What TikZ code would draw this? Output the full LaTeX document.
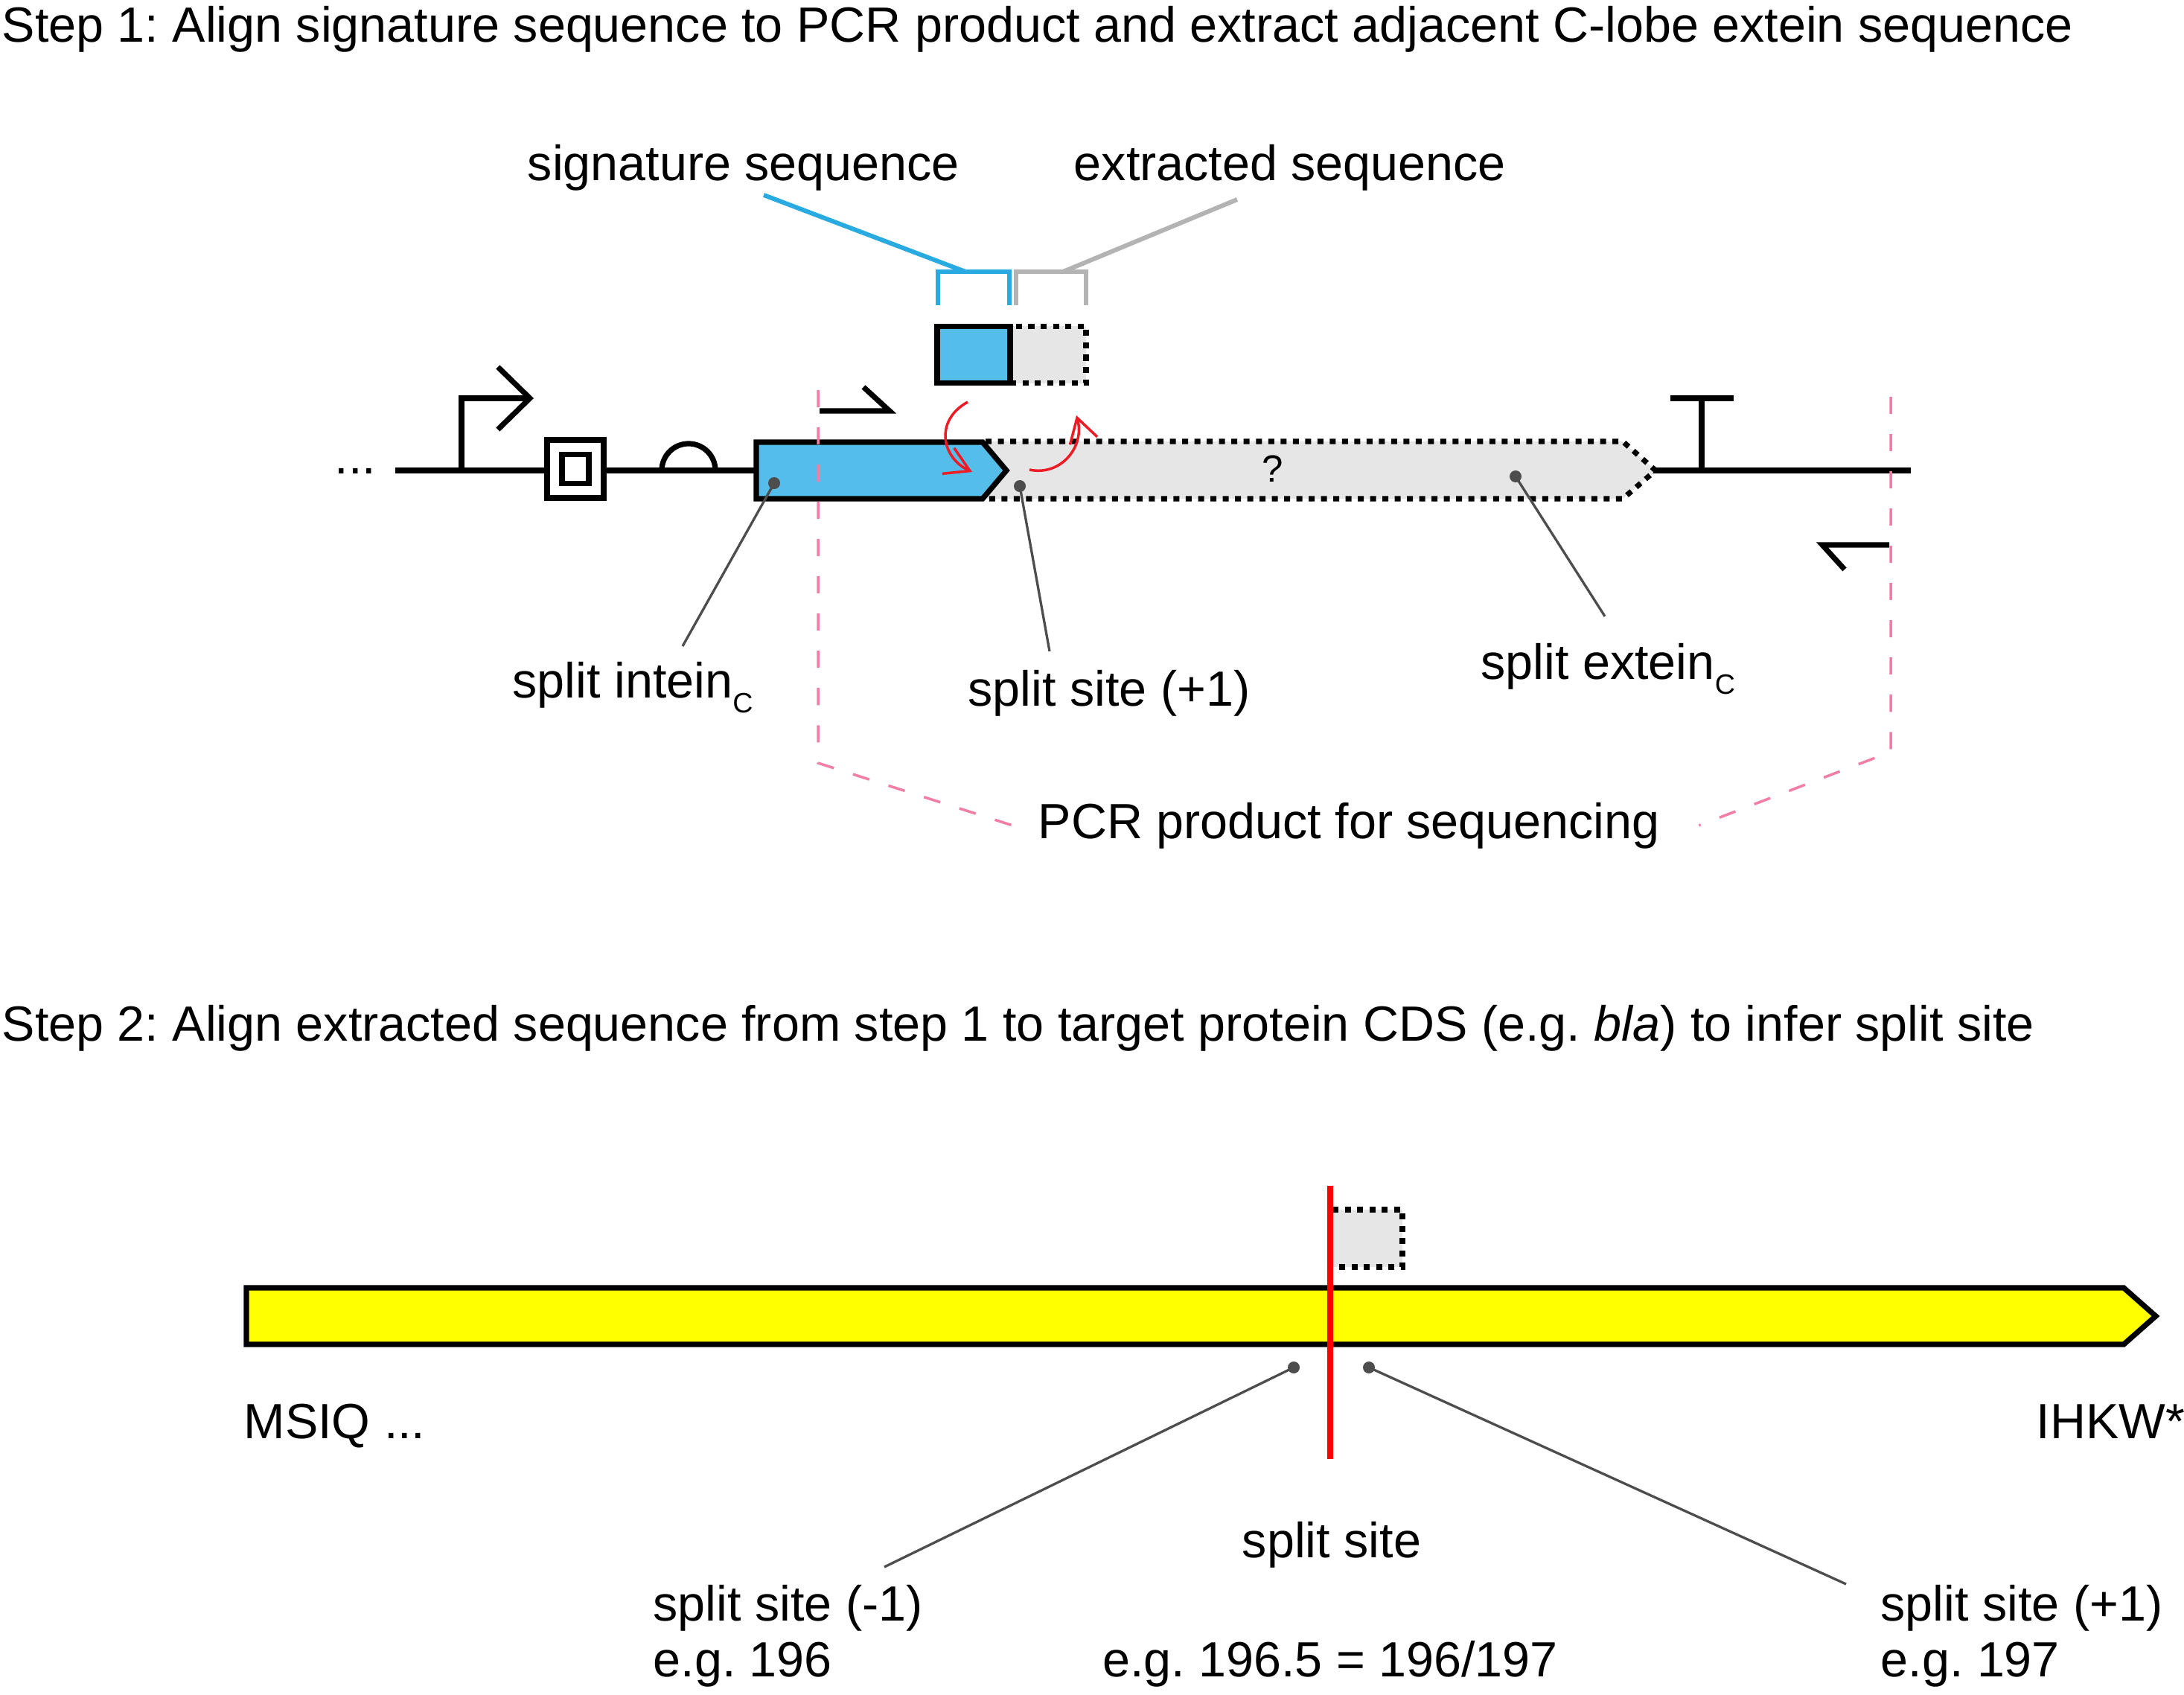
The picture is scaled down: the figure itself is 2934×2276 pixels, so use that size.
\documentclass[tikz,border=0pt]{standalone}
\usepackage{fontspec}
\setmainfont{Liberation Sans}
\usetikzlibrary{calc,positioning,arrows.meta}
\frenchspacing

\definecolor{inteinblue}{RGB}{85,189,234}
\definecolor{sigblue}{RGB}{41,171,226}
\definecolor{exteingrey}{RGB}{230,230,230}
\definecolor{bracegrey}{RGB}{179,179,179}
\definecolor{leadgrey}{RGB}{77,77,77}
\definecolor{pcrpink}{RGB}{242,125,165}
\definecolor{hookred}{RGB}{237,28,36}
\definecolor{cdsyellow}{RGB}{255,255,0}

\newcommand{\lobesub}[1]{\raisebox{-0.2cm}{\fontsize{10.7}{12}\selectfont #1}}

\begin{document}
\begin{tikzpicture}[
    % one unit is one pixel of the reference
    x=0.01cm, y=-0.01cm,
    % general settings
    every node/.style={inner sep=0pt, font=\fontsize{18.9}{22}\selectfont},
    % glyphs
    glyph/.style={draw=black, line width=0.072cm, line join=miter},
    dotline/.style={draw=black, line width=0.072cm, dash pattern=on 0.08cm off 0.085cm},
    intein/.style={glyph, fill=inteinblue},
    cds/.style={glyph, fill=cdsyellow},
    % callouts
    knob/.style={circle, fill=leadgrey, minimum size=0.16cm},
    leader/.style={draw=leadgrey, line width=0.033cm},
    sigbrace/.style={draw=sigblue, line width=0.06cm},
    extbrace/.style={draw=bracegrey, line width=0.06cm},
    % arrows
    hook/.style={draw=hookred, line width=0.035cm, -{Straight Barb[length=0.32cm,width=0.38cm]}},
    pcrline/.style={draw=pcrpink, line width=0.035cm, dash pattern=on 0.23cm off 0.27cm},
    cutline/.style={draw=red, line width=0.08cm},
  ]

  \useasboundingbox (0,0) rectangle (2934,2276);

  % ---------------- step 1 ----------------
  \node (step1) [anchor=base west] at (2,57)
    {Step 1: Align signature sequence to PCR product and extract adjacent C-lobe extein sequence};

  \node (dots) [anchor=base west] at (449,636) {...};
  \coordinate (bbL) at (531,632);
  \coordinate (bbR) at (2567,632);
  \draw[glyph] (bbL) -- (bbR);

  % extein (unknown part)
  \fill[exteingrey] (1320,593) -- (2180,593) -- (2224,632) -- (2180,670) -- (1320,670) -- (1352,632) -- cycle;
  \draw[dotline] (1324,593) -- (2180,593) -- (2224,632) -- (2180,670) -- (1324,670);
  \node (unknown) [font=\fontsize{14.5}{17}\selectfont] at (1710,630) {?};

  % intein
  \draw[intein] (1016,594) -- (1320,594) -- (1352,632) -- (1320,670) -- (1016,670) -- cycle;

  % promoter
  \coordinate (prom) at (620,632);
  \draw[glyph, -{Straight Barb[length=0.43cm,width=0.84cm,sharp]}] (prom) |- (717,535);

  % insulator
  \node (insul)     [glyph, fill=white, minimum width=0.76cm, minimum height=0.78cm] at (773,630) {};
  \node (insulcore) [glyph, minimum width=0.36cm, minimum height=0.39cm] at (insul.center) {};

  % rbs
  \draw[glyph] (889,632) arc[start angle=180, end angle=0, radius=0.36cm];

  % terminator
  \coordinate (term) at (2286,632);
  \draw[glyph] (term) -- (2286,537);
  \draw[glyph, line width=0.08cm] (2244,535) -- (2329,535);

  % primers
  \draw[glyph] (1101,552) -- (1195,552) -- (1160,520);
  \draw[glyph] (2538,732) -- (2448,732) -- (2478,765);

  % pcr product
  \node (pcr) [anchor=base west] at (1394,1126) {PCR product for sequencing};
  \coordinate (pcrL) at (1099,524);
  \coordinate (pcrR) at (2540,533);
  \draw[pcrline] (pcrL) -- (1099,1025) -- ($(pcr.west)+(-34,0)$);
  \draw[pcrline] (pcrR) -- (2540,1010) -- ($(pcr.east)+(52,0)$);

  % extracted pieces
  \node (extbox) [dotline, fill=exteingrey, minimum width=1.02cm, minimum height=0.76cm] at (1408,476.5) {};
  \node (sigbox) [intein, minimum width=0.98cm, minimum height=0.76cm] at (1308,476.5) {};

  \draw[sigbrace] (1260,410) |- (1356,365) -- (1356,410);
  \draw[extbrace] (1365,410) |- (1459,365) -- (1459,410);

  \node (siglbl) [anchor=base] at (999,243) {signature sequence};
  \node (extlbl) [anchor=base] at (1733,243) {extracted sequence};
  \coordinate (sigtail) at (1026,262);
  \coordinate (exttail) at (1662,268);
  \draw[sigbrace] (1297,365) -- (sigtail);
  \draw[extbrace] (1428,365) -- (exttail);

  \draw[hook] (1300,540) .. controls (1255,565) and (1265,615) .. (1306,634);
  \draw[hook] (1383,631) .. controls (1425,640) and (1458,600) .. (1446,558);

  % callouts
  \node (inteinlbl) [anchor=base west] at (688,937) {split intein\lobesub{C}};
  \node (sitelbl)   [anchor=base west] at (1300,948) {split site (+1)};
  \node (exteinlbl) [anchor=base west] at (1989,912) {split extein\lobesub{C}};

  \node (inteindot) [knob] at (1040,649) {};
  \node (sitedot)   [knob] at (1370,653) {};
  \node (exteindot) [knob] at (2036,640) {};
  \coordinate (inteinend) at (917,868);
  \coordinate (siteend)   at (1410,875);
  \coordinate (exteinend) at (2156,828);
  \draw[leader] (inteindot.center) -- (inteinend);
  \draw[leader] (sitedot.center)   -- (siteend);
  \draw[leader] (exteindot.center) -- (exteinend);

  % ---------------- step 2 ----------------
  \node (step2) [anchor=base west] at (2,1398)
    {Step 2: Align extracted sequence from step 1 to target protein CDS (e.g. \textit{bla}) to infer split site};

  \draw[cds] (331,1730) -- (2853,1730) -- (2896,1768) -- (2853,1806) -- (331,1806) -- cycle;

  \fill[exteingrey] (1787,1625) rectangle (1884,1702);
  \draw[dotline] (1790,1625) -- (1884,1625) -- (1884,1702) -- (1790,1702);

  \coordinate (cuttop) at (1787,1593);
  \coordinate (cutbot) at (1787,1960);
  \draw[cutline] (cuttop) -- (cutbot);

  \node (nterm) [anchor=base west] at (327,1932) {MSIQ ...};
  \node (cterm) [anchor=base west] at (2735,1932) {IHKW*};

  \node (cutlbl) [anchor=base] at (1789,2092) {split site};
  \node (cutnum) [anchor=base] at (1787,2252) {e.g. 196.5 = 196/197};
  \node (leftlbl)  [anchor=base west] at (877,2177)  {split site (-1)};
  \node (leftnum)  [anchor=base west] at (877,2252)  {e.g. 196};
  \node (rightlbl) [anchor=base west] at (2526,2177) {split site (+1)};
  \node (rightnum) [anchor=base west] at (2526,2252) {e.g. 197};

  \node (leftdot)  [knob] at (1738,1837) {};
  \node (rightdot) [knob] at (1839,1837) {};
  \coordinate (leftend)  at (1188,2105);
  \coordinate (rightend) at (2480,2128);
  \draw[leader] (leftdot.center)  -- (leftend);
  \draw[leader] (rightdot.center) -- (rightend);

\end{tikzpicture}
\end{document}
